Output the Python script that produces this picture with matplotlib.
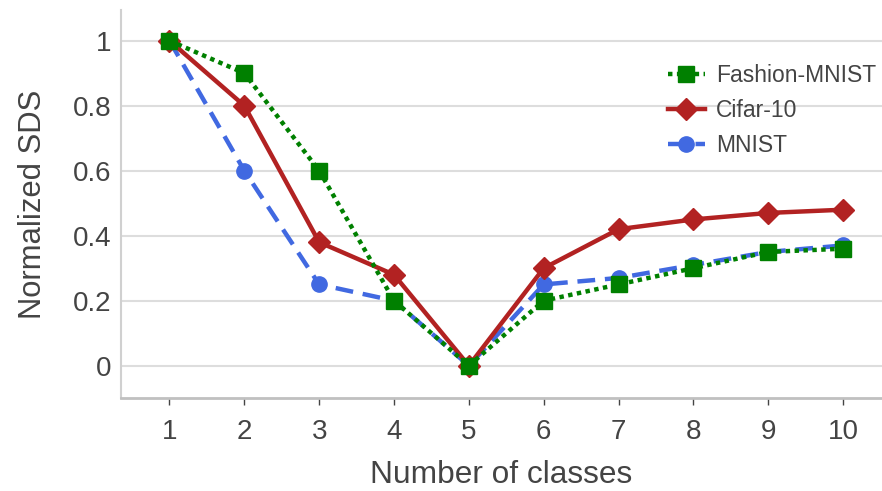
import numpy as np
import matplotlib
matplotlib.use("Agg")
import matplotlib.pyplot as plt

# values
n_classes = [1, 2, 3, 4, 5, 6, 7, 8, 9, 10]
mnist = [1.0, 0.60, 0.25, 0.20, 0.0, 0.25, 0.27, 0.31, 0.35, 0.37]
cifar10 = [1.0, 0.80, 0.38, 0.28, 0.0, 0.30, 0.42, 0.45, 0.47, 0.48]
fashion_mnist = [1.0, 0.90, 0.60, 0.20, 0.0, 0.20, 0.25, 0.30, 0.35, 0.36]
y_ticks = [0, 0.2, 0.4, 0.6, 0.8, 1.0]
y_tick_labels = ["0", "0.2", "0.4", "0.6", "0.8", "1"]

plt.rcParams["font.family"] = ["Liberation Sans", "DejaVu Sans"]
text_color = "#444444"

fig = plt.figure(figsize=(8.82, 4.91), dpi=100)
ax = fig.add_axes([0.137, 0.189, 0.863, 0.791])

ax.plot(n_classes, mnist, color="#4169E1", lw=3.2, ls=(0, (4, 2.2)),
        marker="o", ms=11, label="MNIST", zorder=3)
ax.plot(n_classes, cifar10, color="#B22222", lw=3.2, ls="-",
        marker="D", ms=11, label="Cifar-10", zorder=4)
ax.plot(n_classes, fashion_mnist, color="#008000", lw=3.2, ls=(0, (1, 1)),
        marker="s", ms=12, label="Fashion-MNIST", zorder=5)

ax.set_xlim(0.35, 10.52)
ax.set_ylim(-0.1, 1.095)
ax.set_xticks(n_classes)
ax.set_yticks(y_ticks)
ax.set_yticklabels(y_tick_labels)

ax.grid(axis="y", color="#dddddd", lw=1.5)
ax.set_axisbelow(True)
for side in ("top", "right"):
    ax.spines[side].set_visible(False)
ax.spines["left"].set_color("#d0d0d0")
ax.spines["left"].set_linewidth(1.5)
ax.spines["bottom"].set_color("#c0c0c0")
ax.spines["bottom"].set_linewidth(2)

ax.tick_params(axis="x", length=5, width=1, color="#444444", pad=10,
               labelsize=20, labelcolor=text_color)
ax.tick_params(axis="y", length=0, pad=6.5, labelsize=20, labelcolor=text_color)

ax.set_xlabel("Number of classes", fontsize=22.8, color=text_color, labelpad=11)
ax.set_ylabel("Normalized SDS", fontsize=22.3, color=text_color, labelpad=18)

handles, labels = ax.get_legend_handles_labels()
leg = ax.legend(handles[::-1], labels[::-1], loc="upper right",
                bbox_to_anchor=(1.0105, 0.895), frameon=False, fontsize=16.5,
                handlelength=1.6, handletextpad=0.5, labelspacing=0.52,
                borderaxespad=0.2)
for t in leg.get_texts():
    t.set_color(text_color)

fig.savefig("out.png", dpi=100)
